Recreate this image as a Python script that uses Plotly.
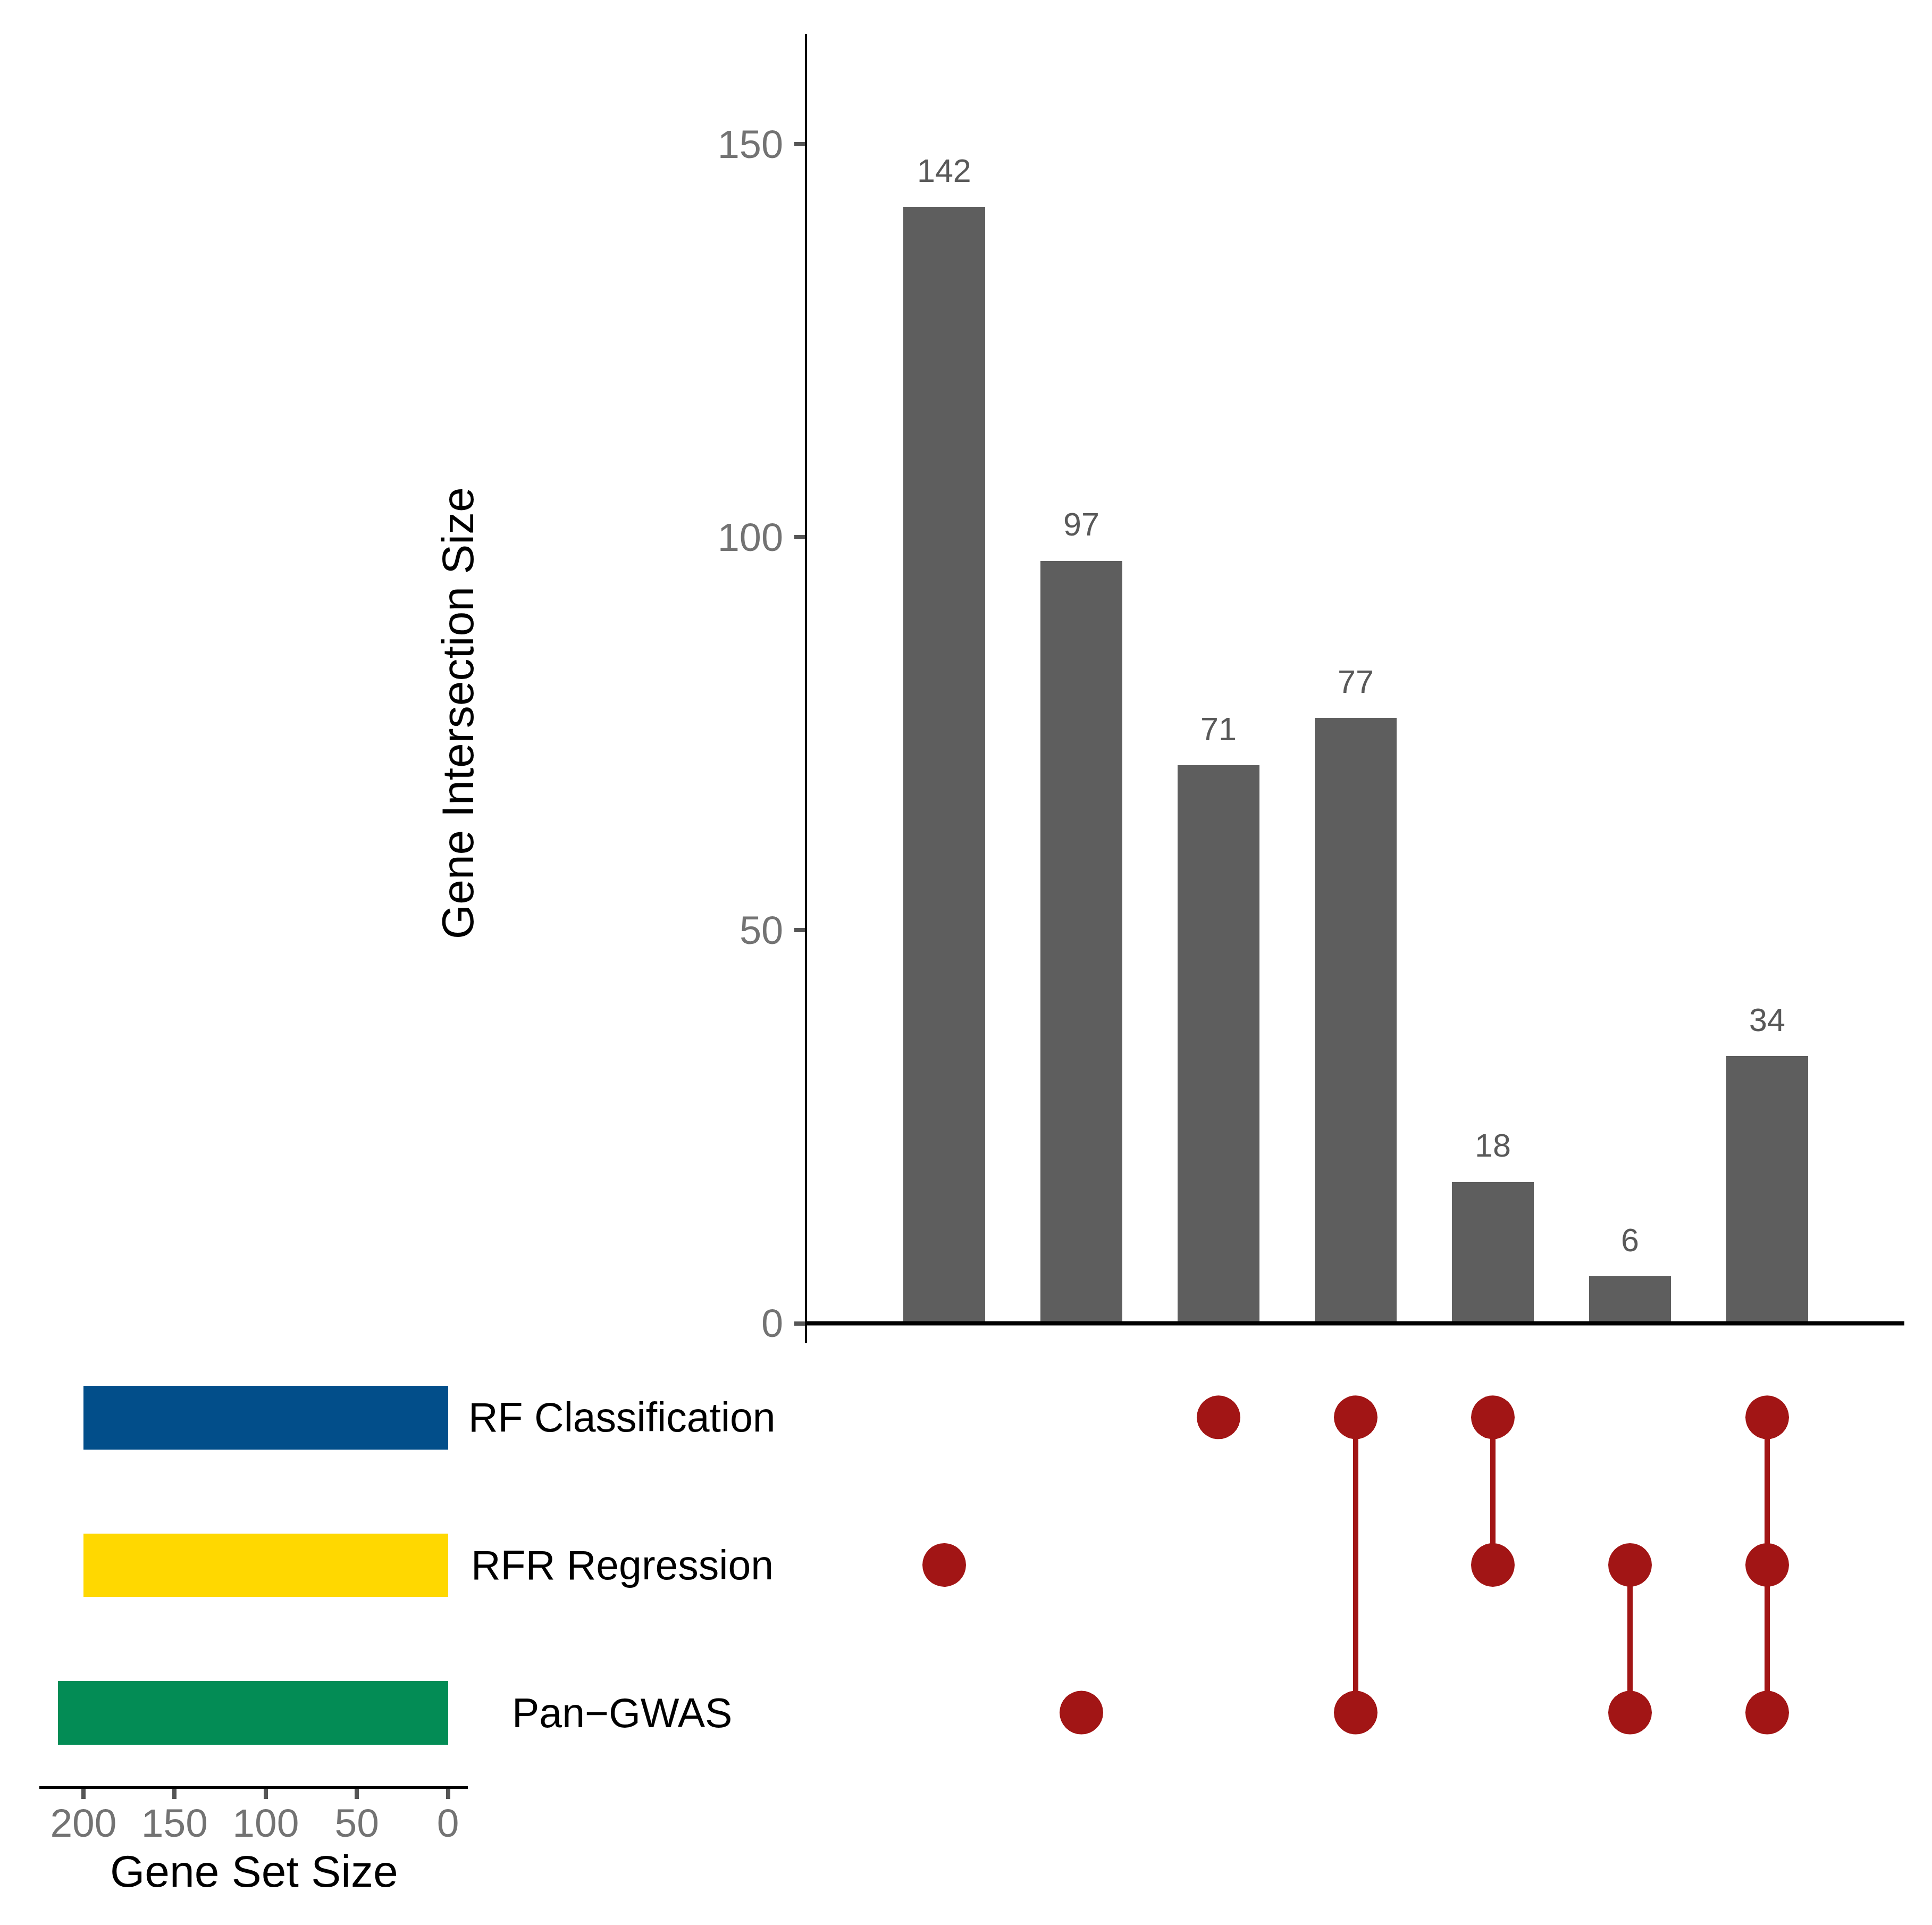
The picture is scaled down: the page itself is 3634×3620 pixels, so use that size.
#!/usr/bin/env python3
"""UpSet-style plot of gene set overlaps (Plotly)."""

import plotly.graph_objects as go

# sets, bottom row first
set_names = ["Pan−GWAS", "RFR Regression", "RF Classification"]
set_sizes = [214, 200, 200]
set_colors = ["#038C55", "#FFD800", "#024E8A"]

# intersections, left to right
intersection_sizes = [142, 97, 71, 77, 18, 6, 34]
intersection_members = [
    ["RFR Regression"],
    ["Pan−GWAS"],
    ["RF Classification"],
    ["RF Classification", "Pan−GWAS"],
    ["RF Classification", "RFR Regression"],
    ["RFR Regression", "Pan−GWAS"],
    ["RF Classification", "RFR Regression", "Pan−GWAS"],
]

main_ticks = [0, 50, 100, 150]
size_ticks = [200, 150, 100, 50, 0]

FONT = "Arial, Liberation Sans, sans-serif"
W, H = 3634, 3620
BAR_GRAY = "#5E5E5E"
DOT_RED = "#A21515"
TICK_TXT = "#737373"
TICK_COL = "#555555"

cols = list(range(1, len(intersection_sizes) + 1))
rows = {name: i + 1 for i, name in enumerate(set_names)}

fig = go.Figure()

# 1) intersection size bars
fig.add_trace(go.Bar(x=cols, y=intersection_sizes, width=0.6, marker_color=BAR_GRAY,
                     marker_line_width=0, xaxis="x", yaxis="y"))

# 2) matrix: connecting lines then dots
lx, ly = [], []
for c, members in zip(cols, intersection_members):
    r = [rows[m] for m in members]
    if len(r) > 1:
        lx += [c, c, None]; ly += [min(r), max(r), None]
fig.add_trace(go.Scatter(x=lx, y=ly, mode="lines", line=dict(color=DOT_RED, width=10),
                         xaxis="x2", yaxis="y2", hoverinfo="skip"))
dx, dy = [], []
for c, members in zip(cols, intersection_members):
    for m in members:
        dx.append(c); dy.append(rows[m])
fig.add_trace(go.Scatter(x=dx, y=dy, mode="markers", marker=dict(color=DOT_RED, size=82, line_width=0),
                         xaxis="x2", yaxis="y2"))

# 3) set size bars
fig.add_trace(go.Bar(x=set_sizes, y=list(rows.values()), orientation="h", width=0.43,
                     marker_color=set_colors, marker_line_width=0, xaxis="x3", yaxis="y3"))

# bar value labels
annotations = []
for c, v in zip(cols, intersection_sizes):
    annotations.append(dict(x=c, y=v, xref="x", yref="y", text=str(v), showarrow=False,
                            yanchor="bottom", yshift=32, font=dict(size=61, color="#595959", family=FONT)))
# set names
for name, r in rows.items():
    annotations.append(dict(x=1162 / W, y=r, xref="paper", yref="y2", text=name, showarrow=False,
                            xanchor="center", yanchor="middle", font=dict(size=77, color="black", family=FONT)))
annotations.append(dict(x=853 / W, y=1 - 1335 / H, xref="paper", yref="paper", text="Gene Intersection Size",
                        textangle=-90, showarrow=False, xanchor="center", yanchor="middle",
                        font=dict(size=84, color="black", family=FONT)))
annotations.append(dict(x=470 / W, y=1 - 3516 / H, xref="paper", yref="paper", text="Gene Set Size",
                        showarrow=False, xanchor="center", yanchor="middle",
                        font=dict(size=84, color="black", family=FONT)))

main_x = [1510 / W, 3574 / W]
low_y = [1 - 3356 / H, 1 - 2522 / H]

fig.update_layout(
    width=W, height=H, margin=dict(l=0, r=0, t=0, b=0),
    paper_bgcolor="white", plot_bgcolor="white", showlegend=False,
    font=dict(family=FONT),
    bargap=0,
    xaxis=dict(domain=main_x, range=[0, 8], visible=False, anchor="y"),
    yaxis=dict(domain=[1 - 2521 / H, 1 - 56 / H], range=[-2.5, 164.0], anchor="x",
               showline=True, linecolor="black", linewidth=4, showgrid=False, zeroline=False,
               tickvals=main_ticks, ticks="outside", ticklen=20, tickwidth=8, tickcolor=TICK_COL,
               ticklabelstandoff=6, tickfont=dict(size=74, color=TICK_TXT, family=FONT)),
    xaxis2=dict(domain=main_x, range=[0, 8], visible=False, anchor="y2"),
    yaxis2=dict(domain=low_y, range=[0.5, 3.5], visible=False, anchor="x2"),
    xaxis3=dict(domain=[66 / W, 872 / W], range=[224.2, -10.9], anchor="y3",
                showline=True, linecolor="black", linewidth=5, showgrid=False, zeroline=False,
                tickvals=size_ticks, ticks="outside", ticklen=19, tickwidth=8, tickcolor=TICK_COL,
                ticklabelstandoff=-19, tickfont=dict(size=75, color=TICK_TXT, family=FONT)),
    yaxis3=dict(domain=low_y, range=[0.5, 3.5], visible=False, anchor="x3"),
    annotations=annotations,
    shapes=[dict(type="line", xref="x domain", yref="y", x0=0, x1=1, y0=0, y1=0,
                 line=dict(color="black", width=8))],
)

fig.write_html("out.html")
